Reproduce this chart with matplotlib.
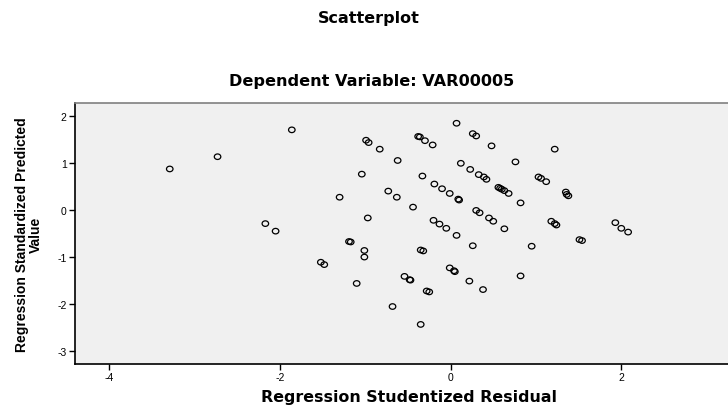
import matplotlib
matplotlib.use("Agg")
import matplotlib.pyplot as plt
from matplotlib.path import Path
from matplotlib.transforms import Affine2D

plt.rcParams['font.family'] = ['Liberation Sans', 'DejaVu Sans']

# Regression Studentized Residual (x) and Regression Standardized Predicted Value (y)
residual = [
    -3.29, -2.73, -1.86, -2.17, -2.05,
    -0.99, -0.96, -0.83, -0.38, -0.36, -0.30, -0.21, 0.07, 0.26, 0.30, 0.48,
    0.76, 1.22, -0.62, -1.04, -1.30, -0.73, -0.63, -0.44, -0.97, -0.33,
    -0.19, -0.10, -0.01, 0.09, 0.10, 0.12, 0.23, 0.33, 0.39, 0.42,
    0.56, 0.58, 0.60, 0.63, 0.68, 0.82, 1.03, 1.06, 1.12, 1.35, 1.36, 1.38,
    0.30, 0.34, 0.45, 0.50, 0.63, -0.20, -0.13, -0.05, 0.07,
    1.18, 1.22, 1.24, 1.93, 2.00, 2.08, 1.51, 1.54, 0.95, 0.82, 0.26,
    -1.19, -1.17, -1.01, -1.01, -1.52, -1.48, -1.10, -0.35, -0.32,
    -0.54, -0.48, -0.47, -0.68, -0.35, -0.28, -0.25, -0.01, 0.04, 0.05,
    0.22, 0.38,
]
predicted = [
    0.87, 1.13, 1.70, -0.29, -0.45,
    1.48, 1.43, 1.29, 1.56, 1.55, 1.47, 1.38, 1.84, 1.62, 1.57, 1.36,
    1.02, 1.29, 1.05, 0.76, 0.27, 0.40, 0.27, 0.06, -0.17, 0.72,
    0.55, 0.45, 0.35, 0.23, 0.21, 0.99, 0.86, 0.75, 0.70, 0.65,
    0.48, 0.46, 0.44, 0.41, 0.35, 0.15, 0.70, 0.67, 0.60, 0.38, 0.33, 0.30,
    -0.01, -0.06, -0.17, -0.24, -0.40, -0.22, -0.30, -0.39, -0.54,
    -0.24, -0.29, -0.32, -0.27, -0.39, -0.47, -0.63, -0.65, -0.77, -1.40, -0.76,
    -0.67, -0.68, -0.86, -1.00, -1.11, -1.16, -1.56, -0.85, -0.87,
    -1.41, -1.48, -1.49, -2.05, -2.43, -1.72, -1.74, -1.23, -1.29, -1.31,
    -1.51, -1.69,
]

x_ticks = [-4, -2, 0, 2]
y_ticks = [-3, -2, -1, 0, 1, 2]

fig = plt.figure(figsize=(7.28, 4.10), dpi=100)
ax = fig.add_axes([75 / 728, 1 - 365 / 410, 1 - 75 / 728, (365 - 104) / 410])
ax.set_facecolor('#f0f0f0')

# slightly wide open-circle marker
ellipse = Path.unit_circle().transformed(Affine2D().scale(1.18, 1.0))
ax.scatter(residual, predicted, s=22, marker=ellipse, facecolors='none',
           edgecolors='black', linewidths=0.9, zorder=3)

ax.set_xlim(-4.40, 3.25)
ax.set_ylim(-3.27, 2.27)
ax.set_xticks(x_ticks)
ax.set_yticks(y_ticks)
ax.set_xticklabels([str(t) for t in x_ticks])
ax.set_yticklabels([str(t) for t in y_ticks])
ax.tick_params(axis='both', direction='out', length=4, width=1, labelsize=7.5,
               pad=2, color='black')

for side in ['left', 'bottom']:
    ax.spines[side].set_color('black')
    ax.spines[side].set_linewidth(1.2)
ax.spines['top'].set_color('#808080')
ax.spines['top'].set_linewidth(1.2)
ax.spines['right'].set_visible(False)

wide = ['DejaVu Sans']
fig.text(369 / 728, 1 - 18 / 410, 'Scatterplot', ha='center', va='center',
         fontsize=11.5, fontweight='bold', family=wide)
fig.text(372 / 728, 1 - 82 / 410, 'Dependent Variable: VAR00005', ha='center',
         va='center', fontsize=11.6, fontweight='bold', family=wide)
fig.text(409 / 728, 1 - 398 / 410, 'Regression Studentized Residual',
         ha='center', va='center', fontsize=11.4, fontweight='bold', family=wide)
fig.text(29 / 728, 1 - 235 / 410, 'Regression Standardized Predicted\nValue',
         ha='center', va='center', rotation=90, fontsize=10, fontweight='bold',
         linespacing=1.0, multialignment='center')

fig.savefig('out.png', dpi=100)
